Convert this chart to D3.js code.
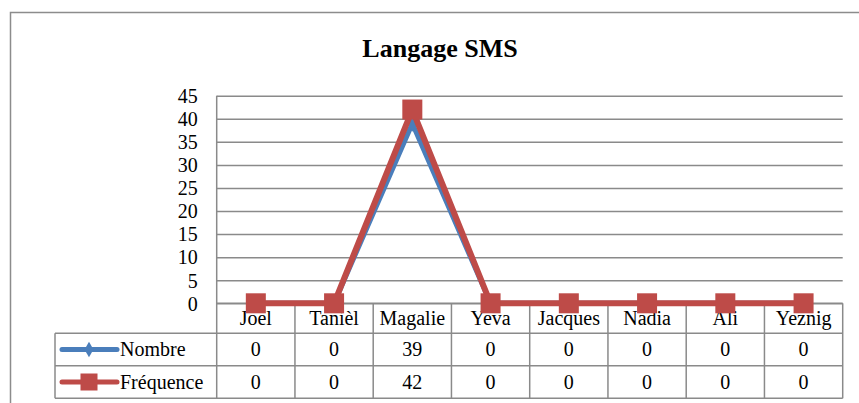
<!DOCTYPE html>
<html>
<head>
<meta charset="utf-8">
<script src="https://cdn.jsdelivr.net/npm/d3@7"></script>
<style>
  body { margin: 0; background: #fff; }
</style>
</head>
<body>
<svg id="chart" width="859" height="403"></svg>
<script>
'use strict';

var categories = ["Joël", "Tanièl", "Magalie", "Yeva", "Jacques", "Nadia", "Ali", "Yeznig"];
var nombre = [0, 0, 39, 0, 0, 0, 0, 0];
var frequence = [0, 0, 42, 0, 0, 0, 0, 0];
var yTicks = [0, 5, 10, 15, 20, 25, 30, 35, 40, 45];
var seriesNames = ["Nombre", "Fréquence"];
var seriesColors = ["#4a7ebb", "#be4b48"];

var fontFamily = "'Liberation Serif', Tinos, 'Times New Roman', 'Nimbus Roman', 'DejaVu Serif', serif";
var plotLeft = 216.7, plotRight = 842.7, plotTop = 95.7, zeroY = 303.3;
var rowH = [30, 32.4, 32.6];
var legendLeft = 55;
var gridColor = "#8a8a8a";

var svg = d3.select("#chart")
    .attr("font-family", fontFamily);

// outer frame (right / bottom edges fall outside the picture)
svg.append("path")
    .attr("d", "M10.5,403 L10.5,12.5 L859,12.5")
    .attr("fill", "none")
    .attr("stroke", "#8c8c8c")
    .attr("stroke-width", 1.5);

svg.append("text")
    .attr("x", 440)
    .attr("y", 57)
    .attr("text-anchor", "middle")
    .attr("font-family", fontFamily)
    .style("font-size", "26px")
    .style("font-weight", "bold")
    .text("Langage SMS");

var x = d3.scaleBand()
    .domain(categories)
    .range([plotLeft, plotRight])
    .padding(0);

var y = d3.scaleLinear()
    .domain([0, 45])
    .range([zeroY, plotTop]);

// gridlines
svg.append("g")
    .attr("transform", "translate(" + plotLeft + ",0)")
    .call(d3.axisLeft(y).tickValues(yTicks).tickSize(-(plotRight - plotLeft)).tickFormat(""))
    .call(function(g) { g.select(".domain").remove(); })
    .selectAll("line")
    .attr("stroke", gridColor)
    .attr("stroke-width", 1.5);

// tick labels
svg.append("g")
    .attr("transform", "translate(" + (plotLeft - 19) + ",0)")
    .call(d3.axisLeft(y).tickValues(yTicks).tickSize(0).tickPadding(0))
    .attr("font-family", fontFamily)
    .call(function(g) { g.select(".domain").remove(); })
    .selectAll("text")
    .attr("fill", "#000")
    .style("font-size", "20px")
    .attr("dy", "0.34em");

// data table lines
var rowY = [zeroY, zeroY + rowH[0], zeroY + rowH[0] + rowH[1], zeroY + rowH[0] + rowH[1] + rowH[2]];
var table = svg.append("g").attr("stroke", gridColor).attr("stroke-width", 1.5);

rowY.forEach(function(ry, i) {
    table.append("line")
        .attr("x1", i === 0 ? plotLeft : legendLeft)
        .attr("x2", plotRight)
        .attr("y1", ry).attr("y2", ry);
});
table.append("line")
    .attr("x1", plotLeft).attr("x2", plotLeft)
    .attr("y1", plotTop).attr("y2", rowY[3]);
table.append("line")
    .attr("x1", legendLeft).attr("x2", legendLeft)
    .attr("y1", rowY[1]).attr("y2", rowY[3]);
categories.forEach(function(c) {
    table.append("line")
        .attr("x1", x(c) + x.bandwidth()).attr("x2", x(c) + x.bandwidth())
        .attr("y1", zeroY).attr("y2", rowY[3]);
});

// category labels
svg.append("g").selectAll("text")
    .data(categories)
    .join("text")
    .attr("x", function(d) { return x(d) + x.bandwidth() / 2; })
    .attr("y", (rowY[0] + rowY[1]) / 2)
    .attr("dy", "0.34em")
    .attr("text-anchor", "middle")
    .style("font-size", "20px")
    .text(function(d) { return d; });

// value rows
[nombre, frequence].forEach(function(vals, s) {
    var cy = (rowY[s + 1] + rowY[s + 2]) / 2;
    svg.append("g").selectAll("text")
        .data(vals)
        .join("text")
        .attr("x", function(d, i) { return x(categories[i]) + x.bandwidth() / 2; })
        .attr("y", cy)
        .attr("dy", "0.34em")
        .attr("text-anchor", "middle")
        .style("font-size", "20px")
        .text(function(d) { return d; });

    // legend key
    var key = svg.append("g");
    key.append("line")
        .attr("x1", 62).attr("x2", 117)
        .attr("y1", cy).attr("y2", cy)
        .attr("stroke", seriesColors[s])
        .attr("stroke-width", 5)
        .attr("stroke-linecap", "round");
    if (s === 0) {
        key.append("path")
            .attr("d", d3.symbol(d3.symbolDiamond, 70)())
            .attr("transform", "translate(89," + cy + ")")
            .attr("fill", seriesColors[s]);
    } else {
        key.append("rect")
            .attr("x", 89 - 8.5).attr("y", cy - 8.5)
            .attr("width", 17).attr("height", 17)
            .attr("fill", seriesColors[s]);
    }
    key.append("text")
        .attr("x", 120)
        .attr("y", cy)
        .attr("dy", "0.34em")
        .style("font-size", "20px")
        .text(seriesNames[s]);
});

// series lines
var line = d3.line()
    .x(function(d, i) { return x(categories[i]) + x.bandwidth() / 2; })
    .y(function(d) { return y(d); });

svg.append("path")
    .datum(nombre)
    .attr("d", line)
    .attr("fill", "none")
    .attr("stroke", seriesColors[0])
    .attr("stroke-width", 5)
    .attr("stroke-linejoin", "round");

svg.append("g").selectAll("path")
    .data(nombre)
    .join("path")
    .attr("d", d3.symbol(d3.symbolDiamond, 80)())
    .attr("transform", function(d, i) {
        return "translate(" + (x(categories[i]) + x.bandwidth() / 2) + "," + y(d) + ")";
    })
    .attr("fill", seriesColors[0]);

svg.append("path")
    .datum(frequence)
    .attr("d", line)
    .attr("fill", "none")
    .attr("stroke", seriesColors[1])
    .attr("stroke-width", 6)
    .attr("stroke-linejoin", "round");

svg.append("g").selectAll("rect")
    .data(frequence)
    .join("rect")
    .attr("x", function(d, i) { return x(categories[i]) + x.bandwidth() / 2 - 10; })
    .attr("y", function(d) { return y(d) - 10; })
    .attr("width", 20)
    .attr("height", 20)
    .attr("fill", seriesColors[1]);
</script>
</body>
</html>
